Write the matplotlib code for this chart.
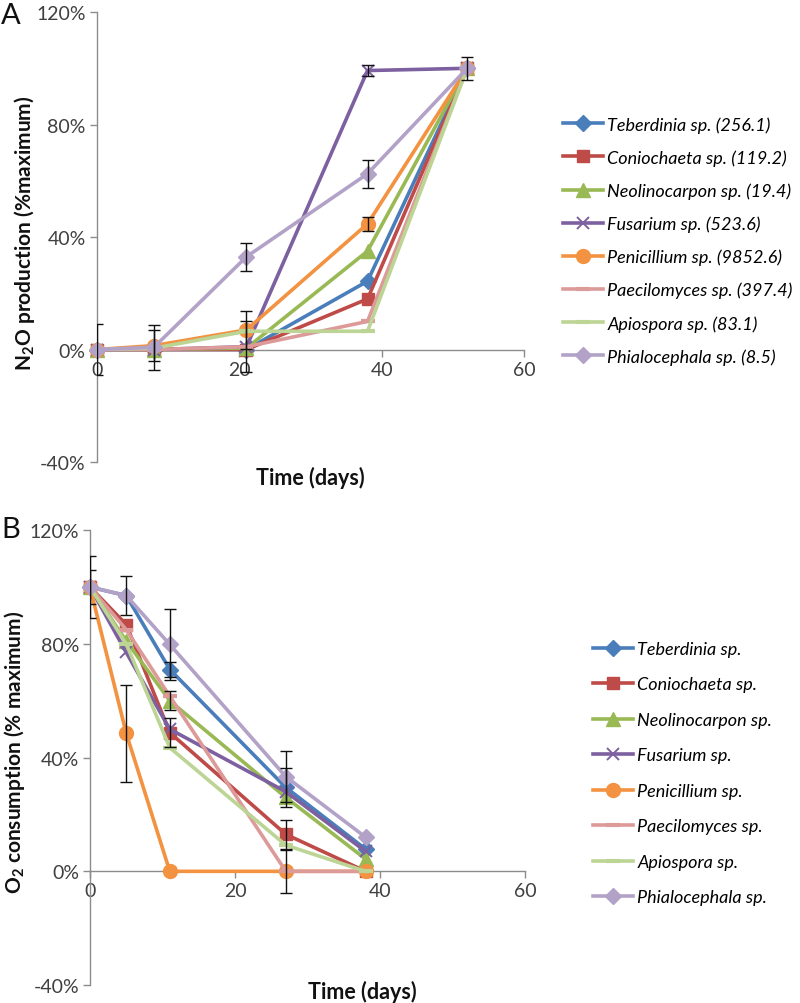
import matplotlib

matplotlib.use("Agg")
import matplotlib.pyplot as plt  # noqa: E402
from matplotlib.ticker import FuncFormatter  # noqa: E402

plt.rcParams["font.family"] = ["Lato", "DejaVu Sans"]
plt.rcParams["mathtext.default"] = "regular"

# ---- data ----
NAMES = ["Teberdinia sp.", "Coniochaeta sp.", "Neolinocarpon sp.", "Fusarium sp.",
         "Penicillium sp.", "Paecilomyces sp.", "Apiospora sp.", "Phialocephala sp."]
N2O_RATE = ["256.1", "119.2", "19.4", "523.6", "9852.6", "397.4", "83.1", "8.5"]

days_a = [0, 8, 21, 38, 52]
n2o_teb = [0, 0, 0, 24.3, 100]
n2o_con = [0, 0, 0, 18, 100]
n2o_neo = [0, 0, 0.5, 35, 100]
n2o_fus = [0, 0, 1, 99.2, 100]
n2o_pen = [0, 1.4, 7, 44.7, 100]
n2o_pae = [0, 0, 1, 10, 100]
n2o_api = [0, 0.5, 6.5, 6.5, 100]
n2o_phi = [0, 0.8, 33, 62.5, 100]
n2o_err_con = [0, 0, 0, 0, 4]
n2o_err_fus = [0, 0, 9, 2, 0]
n2o_err_pen = [0, 5.5, 6.8, 2.5, 0]
n2o_err_phi = [9, 8, 5, 5, 0]

days_b = [0, 5, 11, 27, 38]
o2_teb = [100, 97, 71, 29.5, 7.8]
o2_con = [100, 86.8, 48.8, 13, 0]
o2_neo = [100, 81, 60, 26, 4.3]
o2_fus = [100, 77, 50, 28, 7]
o2_pen = [100, 48.5, 0, 0, 0]
o2_pae = [100, 85, 61.6, 0, 0]
o2_api = [100, 80, 43.5, 9.2, 0]
o2_phi = [100, 97, 79.8, 33.3, 12]
o2_err_teb = [11, 0, 2.5, 7, 0]
o2_err_con = [0, 0, 5, 5, 0]
o2_err_neo = [0, 0, 3.4, 0, 0]
o2_err_pen = [0, 17, 0, 0, 0]
o2_err_pae = [0, 0, 0, 7.5, 0]
o2_err_phi = [6, 7, 12.5, 9, 0]

COLORS = ["#4a7ebb", "#be4b48", "#98b954", "#7d60a0", "#f39240", "#dc9a98", "#bcd494", "#b3a2c7"]
MARKERS = [("D", 8, 1), ("s", 9, 1), ("^", 10, 1), ("x", 9, 1.4), ("o", 10, 1),
           ("_", 10, 3), ("_", 10, 3), ("D", 8, 1)]

AX_GRAY = "#8c8c8c"
TXT = "#404040"
LEG = dict(loc="upper left", frameon=False, prop={"style": "italic", "size": 13},
           handlelength=2.2, handletextpad=0.25, borderaxespad=0, borderpad=0)


def style_axes(ax):
    ax.set_xlim(0, 60)
    ax.set_ylim(-40, 120)
    ax.set_xticks([0, 20, 40, 60])
    ax.set_yticks([-40, 0, 40, 80, 120])
    ax.yaxis.set_major_formatter(FuncFormatter(lambda v, _: f"{v:.0f}%"))
    for s in ("top", "right"):
        ax.spines[s].set_visible(False)
    ax.spines["bottom"].set_position(("data", 0))
    for s in ("left", "bottom"):
        ax.spines[s].set_color(AX_GRAY)
        ax.spines[s].set_linewidth(1.0)
    ax.tick_params(axis="both", direction="out", length=5, width=1, color=AX_GRAY,
                   labelsize=14, labelcolor=TXT)
    ax.tick_params(axis="y", pad=3)
    ax.tick_params(axis="x", pad=3)


def draw_panel(ax, days, series, errs, labels):
    for i, ys in enumerate(series):
        m, ms, mew = MARKERS[i]
        ax.plot(days, ys, color=COLORS[i], lw=2.6, marker=m, ms=ms, mew=mew,
                mec=COLORS[i], mfc=COLORS[i], label=labels[i], zorder=3 + i * 0.1,
                clip_on=False)
    for i, e in errs.items():
        pts = [(d, y, v) for d, y, v in zip(days, series[i], e) if v > 0]
        ax.errorbar([p[0] for p in pts], [p[1] for p in pts], yerr=[p[2] for p in pts],
                    fmt="none", ecolor="#111111", elinewidth=1, capsize=4, capthick=1,
                    zorder=5)


fig = plt.figure(figsize=(8, 10.04), dpi=100)

# panel A: N2O production
ax_a = fig.add_axes([0.1212, 0.5388, 0.534, 0.4482])
style_axes(ax_a)
draw_panel(ax_a, days_a,
           [n2o_teb, n2o_con, n2o_neo, n2o_fus, n2o_pen, n2o_pae, n2o_api, n2o_phi],
           {1: n2o_err_con, 3: n2o_err_fus, 4: n2o_err_pen, 7: n2o_err_phi},
           [f"{n} ({r})" for n, r in zip(NAMES, N2O_RATE)])
ax_a.legend(bbox_to_anchor=(563 / 800, 1 - 117 / 1004), bbox_transform=fig.transFigure,
            labelspacing=0.92, **LEG)

# panel B: O2 consumption
ax_b = fig.add_axes([0.1125, 0.0179, 0.544, 0.453])
style_axes(ax_b)
draw_panel(ax_b, days_b,
           [o2_teb, o2_con, o2_neo, o2_fus, o2_pen, o2_pae, o2_api, o2_phi],
           {0: o2_err_teb, 1: o2_err_con, 2: o2_err_neo, 4: o2_err_pen, 5: o2_err_pae,
            7: o2_err_phi},
           NAMES)
ax_b.legend(bbox_to_anchor=(593 / 800, 1 - 642 / 1004), bbox_transform=fig.transFigure,
            labelspacing=1.08, **LEG)

# labels
fig.text(25 / 800, 1 - 233 / 1004, "N$_2$O production (%maximum)", rotation=90,
         ha="center", va="center", fontsize=15, fontweight="bold", color="#111111")
fig.text(310 / 800, 1 - 478 / 1004, "Time (days)", ha="center", va="center",
         fontsize=15.5, fontweight="bold", color="#111111")
fig.text(15 / 800, 1 - 752 / 1004, "O$_2$ consumption (% maximum)", rotation=90,
         ha="center", va="center", fontsize=15, fontweight="bold", color="#111111")
fig.text(362 / 800, 1 - 992 / 1004, "Time (days)", ha="center", va="center",
         fontsize=15.5, fontweight="bold", color="#111111")
fig.text(11 / 800, 1 - 16 / 1004, "A", ha="center", va="center", fontsize=21, color="#111111")
fig.text(11 / 800, 1 - 530 / 1004, "B", ha="center", va="center", fontsize=21, color="#111111")

fig.savefig("out.png", dpi=100)
